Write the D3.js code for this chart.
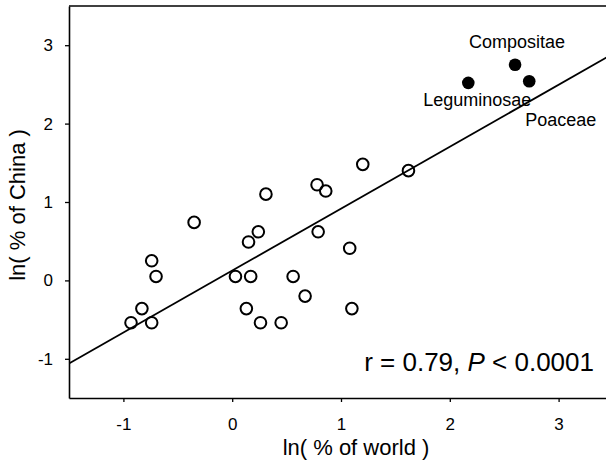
<!DOCTYPE html>
<html>
<head>
<meta charset="utf-8">
<script src="https://cdn.jsdelivr.net/npm/d3@7"></script>
<style>
  body { margin: 0; background: #fff; }
  svg text { font-family: "Liberation Sans", Arial, sans-serif; fill: #000; }
</style>
</head>
<body>
<div id="chart"></div>
<script>
// open circles: other families
const worldX = [-0.93, -0.83, -0.74, -0.74, -0.70, -0.35, 0.03, 0.13, 0.15, 0.17, 0.24, 0.26,
                0.31, 0.45, 0.56, 0.67, 0.78, 0.79, 0.86, 1.08, 1.10, 1.20, 1.62];
const chinaY = [-0.54, -0.36, -0.54, 0.25, 0.05, 0.74, 0.05, -0.36, 0.49, 0.05, 0.62, -0.54,
                1.10, -0.54, 0.05, -0.20, 1.22, 0.62, 1.14, 0.41, -0.36, 1.48, 1.40];

// filled circles: the three big families
const bigNames = ['Compositae', 'Poaceae', 'Leguminosae'];
const bigX = [2.60, 2.73, 2.17];
const bigY = [2.75, 2.54, 2.52];

// regression line
const slope = 0.79;
const intercept = 0.125;

const xTicks = [-1, 0, 1, 2, 3];
const yTicks = [-1, 0, 1, 2, 3];

const width = 606;
const height = 470;
const margin = { top: 6, right: -7, bottom: 72, left: 69 };

const svg = d3.select('#chart')
    .append('svg')
    .attr('width', width)
    .attr('height', height);

const x = d3.scaleLinear()
    .domain([-1.5, 3.5])
    .range([margin.left, width - margin.right]);

const y = d3.scaleLinear()
    .domain([-1.5, 3.5])
    .range([height - margin.bottom, margin.top]);

// plain hyphen for negatives, like the original
const fmt = d => String(d);

// x axis
const xAxis = svg.append('g')
    .attr('transform', `translate(0,${y(-1.5)})`)
    .call(d3.axisBottom(x).tickValues(xTicks).tickFormat(fmt)
        .tickSize(4).tickPadding(16).tickSizeOuter(0));

// y axis
const yAxis = svg.append('g')
    .attr('transform', `translate(${x(-1.5)},0)`)
    .call(d3.axisLeft(y).tickValues(yTicks).tickFormat(fmt)
        .tickSize(4).tickPadding(12).tickSizeOuter(0));

[xAxis, yAxis].forEach(g => {
    g.select('.domain').attr('stroke-width', 1.6);
    g.selectAll('.tick line').attr('stroke-width', 1.3);
    g.selectAll('.tick text').attr('font-size', 17).attr('font-family', '"Liberation Sans", Arial, sans-serif');
});

// top frame line
svg.append('line')
    .attr('x1', x(-1.5)).attr('x2', width)
    .attr('y1', y(3.5)).attr('y2', y(3.5))
    .attr('stroke', '#000').attr('stroke-width', 1.6);

// clip for the fit line
svg.append('clipPath').attr('id', 'plot')
    .append('rect')
    .attr('x', x(-1.5)).attr('y', y(3.5))
    .attr('width', x(3.5) - x(-1.5)).attr('height', y(-1.5) - y(3.5));

svg.append('line')
    .attr('clip-path', 'url(#plot)')
    .attr('x1', x(-1.5)).attr('y1', y(intercept + slope * -1.5))
    .attr('x2', x(3.5)).attr('y2', y(intercept + slope * 3.5))
    .attr('stroke', '#000').attr('stroke-width', 1.8);

// open points
svg.selectAll('.pt')
    .data(worldX)
    .enter().append('circle')
    .attr('class', 'pt')
    .attr('cx', d => x(d))
    .attr('cy', (d, i) => y(chinaY[i]))
    .attr('r', 5.8)
    .attr('fill', 'none')
    .attr('stroke', '#000')
    .attr('stroke-width', 2);

// filled points
svg.selectAll('.big')
    .data(bigX)
    .enter().append('circle')
    .attr('class', 'big')
    .attr('cx', d => x(d))
    .attr('cy', (d, i) => y(bigY[i]))
    .attr('r', 6.3)
    .attr('fill', '#000');

// family labels
const labelPos = [
    { dx: 2, dy: -17, anchor: 'middle' },
    { dx: -4, dy: 45, anchor: 'start' },
    { dx: -45, dy: 23, anchor: 'start' }
];
svg.selectAll('.lab')
    .data(bigNames)
    .enter().append('text')
    .attr('class', 'lab')
    .attr('x', (d, i) => x(bigX[i]) + labelPos[i].dx)
    .attr('y', (d, i) => y(bigY[i]) + labelPos[i].dy)
    .attr('text-anchor', (d, i) => labelPos[i].anchor)
    .attr('font-size', 18)
    .text(d => d);

// statistics
const stat = svg.append('text')
    .attr('x', 594)
    .attr('y', 370.5)
    .attr('text-anchor', 'end')
    .attr('font-size', 26);
stat.append('tspan').text('r = 0.79, ');
stat.append('tspan').attr('font-style', 'italic').text('P');
stat.append('tspan').text(' < 0.0001');

// axis titles
svg.append('text')
    .attr('x', 356)
    .attr('y', 455)
    .attr('text-anchor', 'middle')
    .attr('font-size', 22)
    .text('ln( % of world )');

svg.append('text')
    .attr('transform', 'translate(25,205) rotate(-90)')
    .attr('text-anchor', 'middle')
    .attr('font-size', 22)
    .text('ln( % of China )');
</script>
</body>
</html>
